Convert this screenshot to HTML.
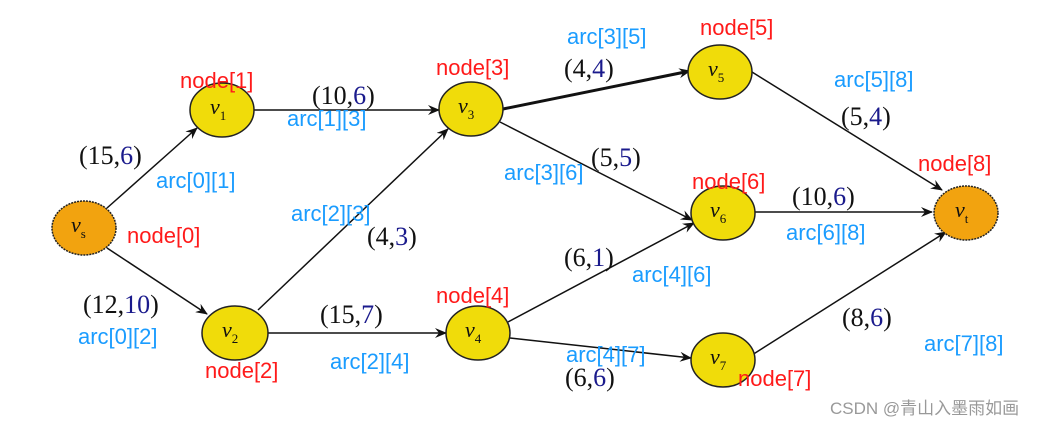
<!DOCTYPE html>
<html><head><meta charset="utf-8"><style>
html,body{margin:0;padding:0;background:#fff;}
svg{display:block}
.n{font-family:"Liberation Sans",sans-serif;font-size:22px;fill:#ff1a1a}
.a{font-family:"Liberation Sans",sans-serif;font-size:22px;fill:#1a9cff}
.w{font-family:"Liberation Serif",serif;font-size:26px;fill:#111}
.b{fill:#1a1a8c}
.v{font-family:"Liberation Serif",serif;font-style:italic;font-size:22px;fill:#111}
.s{font-size:13px;font-style:normal}
</style></head><body>
<svg width="1058" height="424" viewBox="0 0 1058 424" xmlns="http://www.w3.org/2000/svg">
<defs><marker id="ar" markerWidth="12" markerHeight="10" refX="11" refY="5" orient="auto" markerUnits="userSpaceOnUse"><path d="M0,0 L12,5 L0,10 L4,5 Z" fill="#111"/></marker></defs>
<g stroke="#111" stroke-width="1.5" fill="none" marker-end="url(#ar)">
<line x1="107" y1="208" x2="197" y2="128"/>
<line x1="107" y1="248" x2="207" y2="314"/>
<line x1="254" y1="110" x2="439" y2="110"/>
<line x1="258" y1="310" x2="448" y2="129"/>
<line x1="268" y1="333" x2="446" y2="333"/>
<line x1="503" y1="109" x2="690" y2="71" stroke-width="3"/>
<line x1="500" y1="122" x2="692" y2="220"/>
<line x1="508" y1="322" x2="694" y2="223"/>
<line x1="510" y1="338" x2="691" y2="358"/>
<line x1="752" y1="72" x2="942" y2="190"/>
<line x1="755" y1="212" x2="932" y2="212"/>
<line x1="752" y1="355" x2="946" y2="232"/>
</g>
<g stroke="#222" stroke-width="1.5">
<ellipse cx="84" cy="228" rx="32" ry="27" fill="#f2a30f" stroke-dasharray="2,1"/>
<ellipse cx="222" cy="110" rx="32" ry="27" fill="#f0dc0a"/>
<ellipse cx="235" cy="333" rx="33" ry="27" fill="#f0dc0a"/>
<ellipse cx="471" cy="109" rx="32" ry="27" fill="#f0dc0a"/>
<ellipse cx="478" cy="333" rx="32" ry="27" fill="#f0dc0a"/>
<ellipse cx="720" cy="72" rx="32" ry="27" fill="#f0dc0a"/>
<ellipse cx="723" cy="213" rx="32" ry="27" fill="#f0dc0a"/>
<ellipse cx="723" cy="360" rx="32" ry="27" fill="#f0dc0a"/>
<ellipse cx="966" cy="213" rx="32" ry="27" fill="#f2a30f" stroke-dasharray="2,1"/>
</g>
<text class="v" x="71" y="232">v<tspan class="s" dy="6">s</tspan></text>
<text class="v" x="210" y="114">v<tspan class="s" dy="6">1</tspan></text>
<text class="v" x="222" y="337">v<tspan class="s" dy="6">2</tspan></text>
<text class="v" x="458" y="113">v<tspan class="s" dy="6">3</tspan></text>
<text class="v" x="465" y="337">v<tspan class="s" dy="6">4</tspan></text>
<text class="v" x="708" y="76">v<tspan class="s" dy="6">5</tspan></text>
<text class="v" x="710" y="217">v<tspan class="s" dy="6">6</tspan></text>
<text class="v" x="710" y="364">v<tspan class="s" dy="6">7</tspan></text>
<text class="v" x="955" y="217">v<tspan class="s" dy="6">t</tspan></text>

<text class="n" x="180" y="88">node[1]</text>
<text class="n" x="127" y="243">node[0]</text>
<text class="n" x="205" y="378">node[2]</text>
<text class="n" x="436" y="75">node[3]</text>
<text class="n" x="436" y="303">node[4]</text>
<text class="n" x="700" y="35">node[5]</text>
<text class="n" x="692" y="189">node[6]</text>
<text class="n" x="738" y="386">node[7]</text>
<text class="n" x="918" y="171">node[8]</text>

<text class="a" x="156" y="188">arc[0][1]</text>
<text class="a" x="78" y="344">arc[0][2]</text>
<text class="a" x="287" y="126">arc[1][3]</text>
<text class="a" x="291" y="221">arc[2][3]</text>
<text class="a" x="330" y="369">arc[2][4]</text>
<text class="a" x="567" y="44">arc[3][5]</text>
<text class="a" x="504" y="180">arc[3][6]</text>
<text class="a" x="632" y="282">arc[4][6]</text>
<text class="a" x="566" y="362">arc[4][7]</text>
<text class="a" x="834" y="87">arc[5][8]</text>
<text class="a" x="786" y="240">arc[6][8]</text>
<text class="a" x="924" y="351">arc[7][8]</text>

<text class="w" x="79" y="164">(15,<tspan class="b">6</tspan>)</text>
<text class="w" x="83" y="313">(12,<tspan class="b">10</tspan>)</text>
<text class="w" x="312" y="104">(10,<tspan class="b">6</tspan>)</text>
<text class="w" x="367" y="245">(4,<tspan class="b">3</tspan>)</text>
<text class="w" x="320" y="323">(15,<tspan class="b">7</tspan>)</text>
<text class="w" x="564" y="77">(4,<tspan class="b">4</tspan>)</text>
<text class="w" x="591" y="166">(5,<tspan class="b">5</tspan>)</text>
<text class="w" x="564" y="266">(6,<tspan class="b">1</tspan>)</text>
<text class="w" x="565" y="386">(6,<tspan class="b">6</tspan>)</text>
<text class="w" x="841" y="125">(5,<tspan class="b">4</tspan>)</text>
<text class="w" x="792" y="205">(10,<tspan class="b">6</tspan>)</text>
<text class="w" x="842" y="326">(8,<tspan class="b">6</tspan>)</text>

<text x="830" y="414" style="font-family:'Liberation Sans','Noto Sans CJK SC',sans-serif;font-size:17px;fill:#999">CSDN @青山入墨雨如画</text>
</svg>
</body></html>
